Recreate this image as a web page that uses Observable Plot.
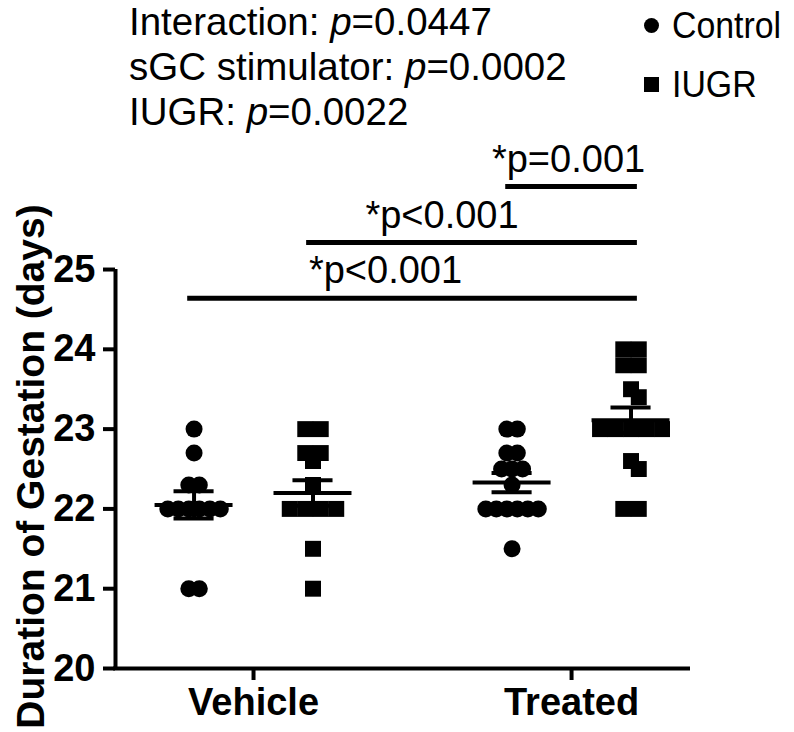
<!DOCTYPE html>
<html><head><meta charset="utf-8">
<script src="https://cdn.jsdelivr.net/npm/d3@7"></script>
<script src="https://cdn.jsdelivr.net/npm/@observablehq/plot@0.6"></script>
<style>
body{margin:0;background:#fff;font-family:"Liberation Sans",Arial,sans-serif;color:#000}
#wrap{position:relative;width:794px;height:732px;overflow:hidden}
#stats{position:absolute;left:129px;top:-1px;font-size:38.5px;line-height:45px;white-space:nowrap}
.leg{position:absolute;left:672px;font-size:36px;line-height:45px;white-space:nowrap;transform-origin:0 0;transform:scaleX(0.94)}
.sym{position:absolute;background:#000}
#chart{position:absolute;left:0;top:140px}
</style></head>
<body><div id="wrap"><div id="stats"></div><div id="legend"></div><div id="chart"></div></div>
<script>
// ---------- data ----------
const groups = ["Vehicle", "Treated"];
const series = ["Control", "IUGR"];
const yTicks = [20, 21, 22, 23, 24, 25];
const vehicleControl = [23, 22.7, 22.3, 22.3, 22, 22, 22, 22, 22, 22, 21, 21];
const vehicleIUGR    = [23, 23, 22.7, 22.7, 22.6, 22.3, 22, 22, 22, 22, 21.5, 21];
const treatedControl = [23, 23, 22.7, 22.7, 22.5, 22.5, 22.5, 22.3, 22, 22, 22, 22, 22, 22, 21.5];
const treatedIUGR    = [24, 24, 23.8, 23.8, 23.5, 23.4, 23, 23, 23, 23, 23, 22.6, 22.5, 22, 22];
const means = [22.05, 22.2, 22.33, 23.11];
const sems  = [0.17, 0.16, 0.12, 0.16];
const comparisonFrom   = [0, 1, 2];   // Vehicle-Control, Vehicle-IUGR, Treated-Control
const comparisonTo     = [3, 3, 3];   // Treated-IUGR
const comparisonLabels = ["*p<0.001", "*p<0.001", "*p=0.001"];
const statsLabels = ["Interaction: ", "sGC stimulator: ", "IUGR: "];
const statsP      = ["0.0447", "0.0002", "0.0022"];
const yTitle = "Duration of Gestation (days)";

// ---------- layout ----------
const W = 794, H = 592, mL = 115, mR = 104, mT = 0, mB = 64;
const xDomain = [0.566, 2.374];
const yDomain = [20, 26.617];
const pxX = (W - mL - mR) / (xDomain[1] - xDomain[0]);
const pxY = (H - mT - mB) / (yDomain[1] - yDomain[0]);
const offset = 0.187;
const rawSets = [vehicleControl, vehicleIUGR, treatedControl, treatedIUGR];
const clusters = rawSets.map((vals, k) => {
  const g = Math.floor(k / 2), s = k % 2;
  return {k, group: groups[g], series: series[s], center: (g + 1) + (s === 0 ? -offset : offset), values: vals, mean: means[k], sem: sems[k]};
});

function swarm(values, center, spacing, thresh) {
  const placed = [];
  const rows = d3.groups(values, v => v).sort((a, b) => b[0] - a[0]);
  for (const [v, arr] of rows) {
    const n = arr.length;
    const base = arr.map((_, i) => (i - (n - 1) / 2) * spacing);
    const shifts = [0];
    for (let j = 1; j <= 10; j++) shifts.push(j * spacing / 2, -j * spacing / 2);
    let chosen = 0;
    for (const sh of shifts) {
      const ok = base.every(b => placed.every(p => Math.hypot(p.px - (b + sh), (p.v - v) * pxY) >= thresh));
      if (ok) { chosen = sh; break; }
    }
    base.forEach(b => placed.push({v, px: b + chosen}));
  }
  return placed.map(p => ({y: p.v, x: center + p.px / pxX}));
}

const points = clusters.flatMap(c =>
  swarm(c.values, c.center, c.series === "Control" ? 10.5 : 15.5, c.series === "Control" ? 10 : 11)
    .map(p => ({...p, series: c.series})));

const maxVal = d3.max(rawSets.flat());
const comps = comparisonLabels.map((label, i) => {
  const a = clusters[comparisonFrom[i]], b = clusters[comparisonTo[i]];
  return {label, x1: a.center - 0.02, x2: b.center + 0.02, y: maxVal + 0.64 + i * 0.70, xm: (a.center + b.center) / 2};
});
const labelShift = [-27, -30, -3];
const halfMean = 0.1226, halfCap = 0.063;

const chart = Plot.plot({
  width: W, height: H,
  marginLeft: mL, marginRight: mR, marginTop: mT, marginBottom: mB,
  x: {domain: xDomain, axis: null},
  y: {domain: yDomain, axis: null},
  style: {fontFamily: "'Liberation Sans', Arial, sans-serif", color: "#000", background: "#fff", overflow: "visible"},
  marks: [
    Plot.ruleY([yTicks[0]], {x1: xDomain[0] - 0.006, x2: xDomain[1], strokeWidth: 4}),
    Plot.ruleX([xDomain[0]], {y1: d3.min(yTicks) - 0.025, y2: d3.max(yTicks), strokeWidth: 4}),
    Plot.axisY({ticks: yTicks, tickFormat: d3.format("d"), tickSize: 12, tickPadding: 8, fontSize: 38, fontWeight: "bold", strokeWidth: 4, label: null, anchor: "left"}),
    Plot.axisX({ticks: [1, 2], tickFormat: d => groups[d - 1], tickSize: 12, tickPadding: 8, fontSize: 38, fontWeight: "bold", strokeWidth: 4, label: null, anchor: "bottom"}),
    Plot.text([yTitle], {frameAnchor: "left", text: d => d, rotate: -90, dx: -84, dy: 62, fontSize: 39, fontWeight: "bold", textAnchor: "middle", lineAnchor: "middle"}),
    Plot.dot(points.filter(p => p.series === "Control"), {x: "x", y: "y", r: 8.5, symbol: "circle", fill: "#000", stroke: "none"}),
    Plot.dot(points.filter(p => p.series === "IUGR"), {x: "x", y: "y", r: 9, symbol: "square", fill: "#000", stroke: "none"}),
    Plot.ruleY(clusters, {y: "mean", x1: d => d.center - halfMean, x2: d => d.center + halfMean, strokeWidth: 4}),
    Plot.ruleY(clusters, {y: d => d.mean + d.sem, x1: d => d.center - halfCap, x2: d => d.center + halfCap, strokeWidth: 4}),
    Plot.ruleY(clusters, {y: d => d.mean - d.sem, x1: d => d.center - halfCap, x2: d => d.center + halfCap, strokeWidth: 4}),
    Plot.ruleX(clusters, {x: "center", y1: d => d.mean - d.sem, y2: d => d.mean + d.sem, strokeWidth: 4}),
    Plot.ruleY(comps, {y: "y", x1: "x1", x2: "x2", strokeWidth: 5}),
    ...comps.map((c, i) => Plot.text([c], {x: "xm", y: "y", text: "label", dy: -27, dx: labelShift[i], fontSize: 38, textAnchor: "middle", lineAnchor: "middle"}))
  ]
});
document.getElementById("chart").appendChild(chart);

document.getElementById("stats").innerHTML = statsLabels.map((s, i) => `<div>${s}<i>p</i>=${statsP[i]}</div>`).join("");
const leg = document.getElementById("legend");
series.forEach((s, i) => {
  const cy = 25 + i * 59;
  const sym = document.createElement("div");
  sym.className = "sym";
  const size = 15;
  sym.style.cssText = `left:${651 - size/2}px;top:${cy - size/2}px;width:${size}px;height:${size}px;border-radius:${i === 0 ? "50%" : "0"}`;
  leg.appendChild(sym);
  const t = document.createElement("div");
  t.className = "leg";
  t.style.top = (cy - 22.5) + "px";
  t.textContent = s;
  leg.appendChild(t);
});
</script></body></html>
